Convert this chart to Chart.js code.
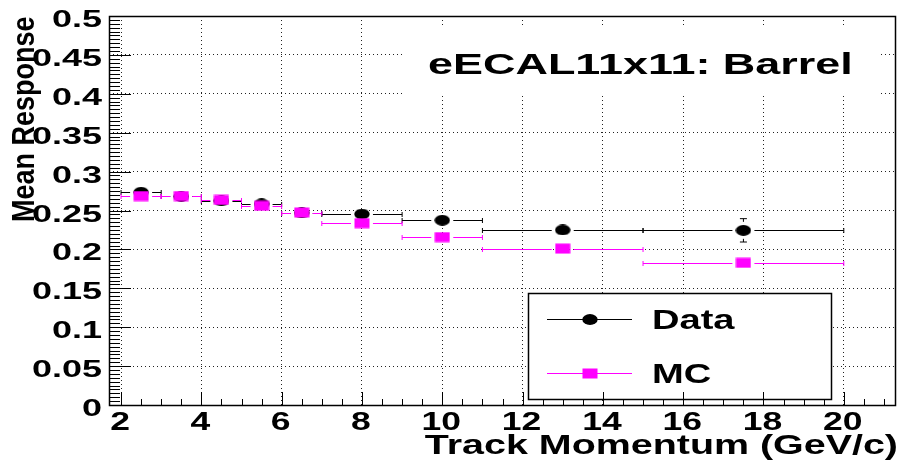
<!DOCTYPE html>
<html>
<head>
<meta charset="utf-8">
<title>eECAL11x11: Barrel</title>
<script src="https://cdn.jsdelivr.net/npm/chart.js@4.4.1/dist/chart.umd.min.js"></script>
<style>
  html, body { margin: 0; padding: 0; background: #fff; }
  canvas { display: block; }
</style>
</head>
<body>
<canvas id="resposta" width="902" height="464"></canvas>
<script>
  // centro dos bins de momento (GeV/c) e os limites de cada bin
  const momentum = [2.5, 3.5, 4.5, 5.5, 6.5, 8, 10, 13, 17.5];
  const binLow = [2, 3, 4, 5, 6, 7, 9, 11, 15];
  const binHigh = [3, 4, 5, 6, 7, 9, 11, 15, 20];

  // resposta media nos dados e o erro de cada ponto
  const dataResp = [0.2735, 0.268, 0.2625, 0.2585, 0.247, 0.2455, 0.2375, 0.225, 0.2245];
  const dataErr = [0.002, 0.002, 0.002, 0.002, 0.002, 0.003, 0.003, 0.004, 0.015];

  // resposta media na simulacao (MC)
  const mcResp = [0.2686, 0.2686, 0.2635, 0.256, 0.2474, 0.2337, 0.2158, 0.201, 0.1827];
  const mcErr = [0.001, 0.001, 0.001, 0.001, 0.002, 0.002, 0.003, 0.004, 0.0107];

  // rotulos dos eixos
  const xTicks = [2, 4, 6, 8, 10, 12, 14, 16, 18, 20];
  const yTicks = [0, 0.05, 0.1, 0.15, 0.2, 0.25, 0.3, 0.35, 0.4, 0.45, 0.5];

  const FONTE = '"Liberation Sans", Arial, Helvetica, sans-serif';
  const MAGENTA = "#ff00ff";

  // marcadores "achatados" (mais largos que altos), desenhados num canvas pequeno
  function marcador(tipo, cor) {
    const c = document.createElement("canvas");
    c.width = 16; c.height = 11;
    const g = c.getContext("2d");
    g.fillStyle = cor;
    if (tipo === "circulo") {
      g.beginPath();
      g.ellipse(8, 5.5, 7.7, 5.4, 0, 0, 2 * Math.PI);
      g.fill();
    } else {
      g.fillRect(0.5, 0.5, 15, 10);
    }
    return c;
  }
  const bolinha = marcador("circulo", "#000");
  const quadrado = marcador("quadrado", MAGENTA);

  // texto esticado na horizontal (sx), opcionalmente girado
  function texto(ctx, str, x, y, size, sx, align, rot) {
    ctx.save();
    ctx.translate(x, y);
    ctx.scale(sx, 1);
    if (rot) ctx.rotate(rot);
    ctx.font = "bold " + size + "px " + FONTE;
    ctx.fillStyle = "#000";
    ctx.textAlign = align;
    ctx.textBaseline = "alphabetic";
    ctx.fillText(str, 0, 0);
    ctx.restore();
  }

  function pontos(resp, err) {
    return momentum.map((x, i) => ({ x: x, y: resp[i], xMin: binLow[i], xMax: binHigh[i], yErr: err[i] }));
  }

  // barras de erro (x = largura do bin, y = erro) antes dos marcadores de cada serie
  const barrasErro = {
    id: "barrasErro",
    beforeDatasetDraw(chart, args) {
      const ds = chart.data.datasets[args.index];
      const { ctx, scales: { x, y } } = chart;
      const hw = 11, hh = 8.5; // espaco livre em volta do marcador
      ctx.save();
      ctx.strokeStyle = ds.borderColor;
      ctx.lineWidth = 1;
      ctx.beginPath();
      ds.data.forEach(p => {
        const px = x.getPixelForValue(p.x);
        const py = Math.round(y.getPixelForValue(p.y)) + 0.5;
        const xl = x.getPixelForValue(p.xMin);
        const xr = x.getPixelForValue(p.xMax);
        if (px - xl > hw) { ctx.moveTo(xl, py); ctx.lineTo(px - hw, py); }
        if (xr - px > hw) { ctx.moveTo(px + hw, py); ctx.lineTo(xr, py); }
        ctx.moveTo(xl, py - 2.5); ctx.lineTo(xl, py + 2.5);
        ctx.moveTo(xr, py - 2.5); ctx.lineTo(xr, py + 2.5);
        const yt = y.getPixelForValue(p.y + p.yErr);
        const yb = y.getPixelForValue(p.y - p.yErr);
        const pyc = y.getPixelForValue(p.y);
        if (pyc - yt > hh) {
          ctx.moveTo(px, yt); ctx.lineTo(px, pyc - hh);
          ctx.moveTo(px - 3.5, yt); ctx.lineTo(px + 3.5, yt);
          ctx.moveTo(px, pyc + hh); ctx.lineTo(px, yb);
          ctx.moveTo(px - 3.5, yb); ctx.lineTo(px + 3.5, yb);
        }
      });
      ctx.stroke();
      ctx.restore();
    }
  };

  // caixa branca atras do titulo (esconde a grade)
  const caixaTitulo = {
    id: "caixaTitulo",
    beforeDatasetsDraw(chart) {
      const ctx = chart.ctx;
      ctx.save();
      ctx.fillStyle = "#fff";
      ctx.fillRect(405, 25, 475, 71);
      ctx.restore();
    }
  };

  // legenda, ticks internos, moldura e textos
  const decoracao = {
    id: "decoracao",
    afterDraw(chart) {
      const { ctx, chartArea: a, scales: { x, y } } = chart;
      ctx.save();

      // legenda
      ctx.fillStyle = "#fff";
      ctx.fillRect(528, 293, 304, 107);
      ctx.strokeStyle = "#000";
      ctx.lineWidth = 1.5;
      ctx.strokeRect(528.5, 293.5, 303, 106);
      [["Data", "#000", bolinha, 319], ["MC", MAGENTA, quadrado, 373]].forEach(([nome, cor, img, yy]) => {
        ctx.strokeStyle = cor;
        ctx.lineWidth = 1;
        ctx.beginPath();
        ctx.moveTo(547, yy + 0.5); ctx.lineTo(632, yy + 0.5);
        ctx.stroke();
        ctx.drawImage(img, 590 - 8, yy - 5);
        texto(ctx, nome, 652, yy + 10, 28, 1.36, "left");
      });

      // ticks do eixo y (dentro da moldura)
      ctx.strokeStyle = "#000";
      ctx.lineWidth = 1;
      ctx.beginPath();
      for (let k = 0; k <= 100; k++) {
        const py = Math.round(y.getPixelForValue(k * 0.005)) + 0.5;
        const len = k % 10 === 0 ? 22 : 11;
        ctx.moveTo(a.left, py); ctx.lineTo(a.left + len, py);
      }
      // ticks do eixo x
      for (let k = 4; k * 0.5 <= x.max; k++) {
        const px = Math.round(x.getPixelForValue(k * 0.5)) + 0.5;
        const len = k % 4 === 0 ? 13 : 6;
        ctx.moveTo(px, a.bottom); ctx.lineTo(px, a.bottom - len);
      }
      ctx.stroke();

      // moldura
      ctx.lineWidth = 1.5;
      ctx.strokeRect(a.left + 0.5, a.top + 0.5, a.right - a.left - 1, a.bottom - a.top);
      ctx.restore();

      // rotulos dos ticks
      yTicks.forEach(v => {
        texto(ctx, String(+v.toFixed(2)), 102, y.getPixelForValue(v) + 11, 24, 1.5, "right");
      });
      xTicks.forEach(v => {
        texto(ctx, String(v), x.getPixelForValue(v) - 1, 430, 25, 1.42, "center");
      });

      // titulos
      texto(ctx, "Track Momentum (GeV/c)", 898, 454, 27, 1.46, "right");
      texto(ctx, "Mean Response", 34, 222, 27, 1.18, "left", -Math.PI / 2);
      texto(ctx, "eECAL11x11: Barrel", 428, 74, 29, 1.55, "left");
    }
  };

  const config = {
    type: "scatter",
    data: {
      datasets: [
        {
          label: "MC",
          data: pontos(mcResp, mcErr),
          pointStyle: quadrado,
          pointRadius: 5,
          borderColor: MAGENTA,
          backgroundColor: MAGENTA,
          order: 0 // desenhado por cima dos dados
        },
        {
          label: "Data",
          data: pontos(dataResp, dataErr),
          pointStyle: bolinha,
          pointRadius: 5,
          borderColor: "#000",
          backgroundColor: "#000",
          order: 1
        }
      ]
    },
    options: {
      responsive: false,
      animation: false,
      events: [],
      layout: { padding: { left: 109, right: 5, top: 16, bottom: 59 } },
      plugins: { legend: { display: false }, tooltip: { enabled: false } },
      scales: {
        x: {
          type: "linear",
          min: 1.7,
          max: 21.3,
          afterBuildTicks: s => { s.ticks = xTicks.map(v => ({ value: v })); },
          afterFit: s => { s.height = 0; },
          ticks: { display: false },
          grid: { color: "#222", lineWidth: 1, drawTicks: false },
          border: { display: false, dash: [1, 3] }
        },
        y: {
          type: "linear",
          min: 0,
          max: 0.5,
          afterBuildTicks: s => { s.ticks = yTicks.map(v => ({ value: v })); },
          afterFit: s => { s.width = 0; },
          ticks: { display: false },
          grid: { color: "#222", lineWidth: 1, drawTicks: false },
          border: { display: false, dash: [1, 3] }
        }
      }
    },
    plugins: [caixaTitulo, barrasErro, decoracao]
  };

  const grafico = new Chart(document.getElementById("resposta"), config);
</script>
</body>
</html>
